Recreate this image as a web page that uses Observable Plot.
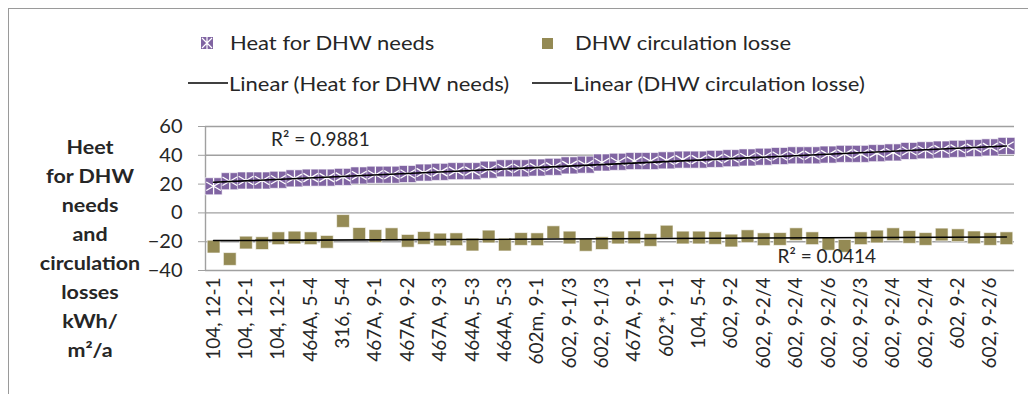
<!DOCTYPE html>
<html>
<head>
<meta charset="utf-8">
<script src="https://cdn.jsdelivr.net/npm/d3@7"></script>
<script src="https://cdn.jsdelivr.net/npm/@observablehq/plot@0.6"></script>
<style>
  html, body { margin: 0; padding: 0; background: #fff; }
  #wrap { position: relative; width: 1028px; height: 394px; overflow: hidden; font-family: Lato, "Open Sans", sans-serif; color: #262626; }
  #frame { position: absolute; left: 8px; top: 8px; width: 1040px; height: 400px; border-left: 1.5px solid #9a9a9a; border-top: 1.5px solid #9a9a9a; }
  .leg { position: absolute; font-size: 20px; white-space: nowrap; line-height: 1; transform: scaleX(1.1); transform-origin: left center; }
  .icon { position: absolute; line-height: 0; }
  .icon svg { display: block; }
  #ytitle { position: absolute; left: 15px; top: 132px; width: 150px; text-align: center; font-weight: bold; font-size: 19px; line-height: 29px; color: #262626; transform: scaleX(1.13); transform-origin: center; }
  #chart { position: absolute; left: 0; top: 0; }
</style>
</head>
<body>
<div id="wrap">
  <div id="frame"></div>
  <div id="legend"></div>
  <div id="ytitle"></div>
  <div id="chart"></div>
</div>
<script>
// ---- data ----
const tickLabels = ["104, 12-1","104, 12-1","104, 12-1","464A, 5-4","316, 5-4","467A, 9-1","467A, 9-2","467A, 9-3","464A, 5-3","464A, 5-3","602m, 9-1","602, 9-1/3","602, 9-1/3","467A, 9-1","602*, 9-1","104, 5-4","602, 9-2","602, 9-2/4","602, 9-2/4","602, 9-2/6","602, 9-2/3","602, 9-2/4","602, 9-2/4","602, 9-2","602, 9-2/6"];
const heatNeeds = [18.5,22,22.5,22.5,23,24,24.5,24.5,25,26,26.5,26.5,27,28,28.5,29,29,30,31,31,31.5,32,33,33.5,35,35.5,36,36,36.5,37,37,37.5,38,38.5,39,39.5,40,40,40.5,41,41,41.5,42,43,43.5,44,44.5,45,45.5,46.5];
const circLosses = [-23.4,-32,-20.6,-21,-17.6,-17.1,-17.6,-20.1,-5.6,-14.6,-16,-14.8,-19.4,-17.4,-18.5,-18.3,-22,-16.4,-22,-18.1,-18.3,-13.4,-17.1,-22.2,-21,-17.1,-17,-18.8,-13,-17.1,-17.1,-17.4,-19.2,-16.2,-18.3,-18.1,-14.8,-17.6,-21.5,-22.9,-17.6,-16.4,-14.8,-16.7,-18.1,-15,-15.5,-17,-18.1,-17.6];
const seriesNames = ["Heat for DHW needs", "DHW circulation losse"];
const trendNames = ["Linear (Heat for DHW needs)", "Linear (DHW circulation losse)"];
const r2Labels = ["R² = 0.9881", "R² = 0.0414"];
const yTicks = [-40, -20, 0, 20, 40, 60];
const yTitleLines = ["Heet", "for DHW", "needs", "and", "circulation", "losses", "kWh/", "m²/a"];

const purple = "#8064A2";
const olive = "#948A54";

const heatData = heatNeeds.map((v, i) => ({i, v}));
const lossData = circLosses.map((v, i) => ({i, v}));

// ---- y title ----
document.getElementById("ytitle").innerHTML = yTitleLines.join("<br>");

// ---- legend ----
const legend = document.getElementById("legend");
const purpleIcon = `<svg width="12" height="12"><rect x="0" y="0" width="12" height="12" fill="${purple}"/><path d="M1,1L11,11M11,1L1,11M6,0V12" stroke="#fff" stroke-width="1.2"/></svg>`;
const oliveIcon = `<svg width="11" height="11"><rect x="0" y="0" width="11" height="11" fill="${olive}"/></svg>`;
const lineIcon = `<svg width="40" height="4"><line x1="0" y1="2" x2="40" y2="2" stroke="#000" stroke-width="1.3"/></svg>`;
legend.innerHTML = `
  <div class="icon" style="left:201px;top:37px">${purpleIcon}</div>
  <div class="leg" style="left:230px;top:32px">${seriesNames[0]}</div>
  <div class="icon" style="left:542px;top:38px">${oliveIcon}</div>
  <div class="leg" style="left:575px;top:32px">${seriesNames[1]}</div>
  <div class="icon" style="left:188px;top:81px">${lineIcon}</div>
  <div class="leg" style="left:229px;top:73px">${trendNames[0]}</div>
  <div class="icon" style="left:532px;top:81px">${lineIcon}</div>
  <div class="leg" style="left:573px;top:73px">${trendNames[1]}</div>`;

// ---- chart ----
const chart = Plot.plot({
  width: 1028,
  height: 394,
  marginTop: 126,
  marginBottom: 124,
  marginLeft: 205,
  marginRight: 14,
  style: {fontFamily: "Lato, 'Open Sans', sans-serif", fontSize: "18px", color: "#262626", background: "transparent", overflow: "visible"},
  x: {type: "linear", domain: [-0.5, heatNeeds.length - 0.5]},
  y: {domain: [-40, 60]},
  marks: [
    Plot.ruleY(yTicks, {stroke: "#a0a0a0", strokeWidth: 1.4, x1: -0.5, x2: heatNeeds.length - 0.5}),
    Plot.ruleX([-0.5], {y1: -40, y2: 60, stroke: "#a0a0a0", strokeWidth: 1.4}),
    Plot.axisY({ticks: yTicks, tickSize: 7, tickPadding: 16, stroke: "#a0a0a0", label: null, fontSize: 20}),
    Plot.axisX({
      ticks: d3.range(0, heatNeeds.length, 2),
      tickFormat: (d) => tickLabels[d / 2],
      tickRotate: -90,
      tickSize: 0,
      tickPadding: 7,
      label: null,
      fontSize: 19
    }),
    Plot.dot(lossData, {x: "i", y: "v", symbol: "square", r: 7.2, fill: olive, stroke: "#fff", strokeWidth: 0.6}),
    Plot.dot(heatData, {x: "i", y: "v", symbol: "square", r: 9.6, fill: purple, stroke: "#fff", strokeWidth: 0.6}),
    Plot.dot(heatData, {x: "i", y: "v", symbol: "asterisk", r: 8, stroke: "#fff", strokeWidth: 1.3}),
    Plot.linearRegressionY(heatData, {x: "i", y: "v", stroke: "#000", strokeWidth: 1.6, ci: 0}),
    Plot.linearRegressionY(lossData, {x: "i", y: "v", stroke: "#000", strokeWidth: 1.6, ci: 0}),
    Plot.text([r2Labels[0]], {x: 6.6, y: 51, text: (d) => d, fontSize: 19, fill: "#262626"}),
    Plot.text([r2Labels[1]], {x: 37.9, y: -30.5, text: (d) => d, fontSize: 19, fill: "#262626"})
  ]
});
document.getElementById("chart").appendChild(chart);
</script>
</body>
</html>
